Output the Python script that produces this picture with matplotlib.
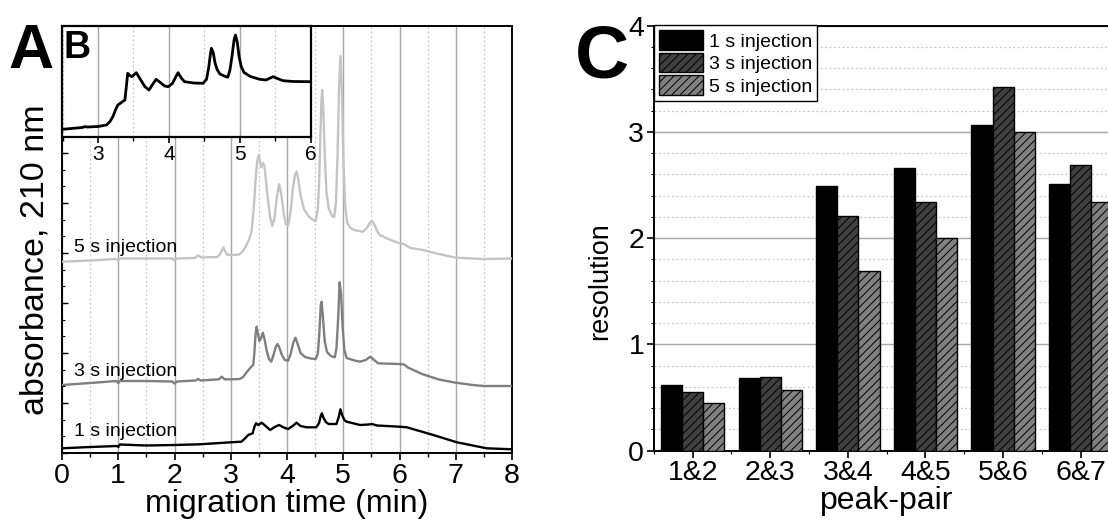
import matplotlib
matplotlib.use('Agg')
import matplotlib.pyplot as plt
from matplotlib.ticker import MultipleLocator, NullFormatter, FixedLocator
import numpy as np

# ---------------- data ----------------
# Panel A: electropherograms (migration time in min, absorbance in arbitrary units)
t5 = [0.00, 0.50, 0.97, 1.00, 1.03, 1.50, 1.96, 2.00, 2.04, 2.36, 2.42, 2.48, 2.76, 2.81, 2.87, 2.93,
      3.00, 3.15, 3.22, 3.28, 3.33, 3.37, 3.41, 3.44, 3.47, 3.50, 3.525, 3.545, 3.57, 3.595, 3.62, 3.66,
      3.70, 3.74, 3.78, 3.82, 3.86, 3.90, 3.94, 3.98, 4.02, 4.06, 4.10, 4.14, 4.17, 4.20, 4.24, 4.30,
      4.38, 4.46, 4.51, 4.55, 4.57, 4.59, 4.61, 4.625, 4.645, 4.67, 4.70, 4.74, 4.80, 4.84, 4.87, 4.90,
      4.925, 4.95, 4.975, 5.00, 5.03, 5.07, 5.13, 5.20, 5.35, 5.42, 5.47, 5.51, 5.55, 5.60, 5.65, 5.80,
      6.00, 6.08, 6.13, 6.20, 6.42, 6.70, 7.00, 7.50, 8.00]
a5 = [191.3, 192.5, 194.0, 192.0, 194.5, 194.5, 194.5, 192.5, 194.5, 195.0, 197.5, 195.5, 196.0, 199.0, 205.5, 198.5,
      198.0, 198.5, 202.0, 208.0, 214.0, 222.0, 245.0, 272.0, 292.0, 298.0, 290.0, 286.0, 290.0, 288.0, 276.0, 254.0,
      236.0, 227.0, 236.0, 256.0, 268.7, 258.0, 240.0, 229.0, 227.3, 240.0, 262.0, 278.0, 281.3, 274.0, 258.0, 244.0,
      237.0, 233.0, 232.0, 245.0, 268.0, 310.0, 350.0, 363.0, 345.0, 300.0, 262.0, 245.0, 237.0, 236.0, 250.0, 300.0,
      365.0, 397.0, 365.0, 300.0, 250.0, 230.0, 225.0, 223.0, 221.3, 225.0, 230.0, 232.0, 229.0, 222.0, 218.0, 214.0,
      209.7, 209.0, 207.0, 205.0, 203.0, 199.0, 195.3, 194.0, 194.5]

t3 = [0.00, 0.50, 0.97, 1.00, 1.03, 1.50, 1.96, 2.00, 2.04, 2.38, 2.42, 2.46, 2.79, 2.84, 2.89, 3.00,
      3.16, 3.22, 3.30, 3.36, 3.40, 3.42, 3.44, 3.46, 3.48, 3.51, 3.54, 3.57, 3.60, 3.64, 3.68, 3.72,
      3.76, 3.80, 3.83, 3.86, 3.91, 3.96, 4.02, 4.07, 4.11, 4.15, 4.19, 4.24, 4.32, 4.42, 4.51, 4.55,
      4.575, 4.60, 4.615, 4.64, 4.67, 4.71, 4.78, 4.85, 4.88, 4.91, 4.935, 4.96, 4.99, 5.02, 5.06, 5.20,
      5.30, 5.40, 5.48, 5.55, 5.62, 5.80, 6.00, 6.08, 6.15, 6.40, 6.70, 7.00, 7.30, 7.50, 8.00]
a3 = [68.0, 70.0, 72.0, 70.0, 72.0, 72.0, 71.5, 69.5, 71.5, 72.5, 74.0, 72.5, 73.7, 76.3, 73.7, 73.7,
      74.0, 76.0, 82.0, 86.0, 88.0, 100.0, 118.0, 126.3, 120.0, 112.0, 115.0, 120.3, 114.0, 102.0, 94.0, 91.3,
      98.0, 106.0, 109.0, 106.0, 98.0, 93.0, 92.3, 100.0, 110.0, 115.3, 109.0, 100.0, 96.0, 94.5, 94.0, 100.0,
      120.0, 148.0, 151.3, 135.0, 112.0, 101.0, 97.0, 95.7, 105.0, 135.0, 170.7, 160.0, 125.0, 103.0, 95.0, 92.5,
      91.3, 93.0, 96.3, 93.0, 89.7, 89.3, 89.0, 88.5, 85.5, 79.0, 73.5, 70.3, 68.0, 67.0, 67.0]

t1 = [0.00, 0.50, 0.98, 1.00, 1.03, 1.50, 2.00, 2.45, 3.00, 3.19, 3.26, 3.31, 3.39, 3.42, 3.45, 3.49,
      3.55, 3.62, 3.70, 3.78, 3.86, 3.94, 4.02, 4.10, 4.17, 4.24, 4.35, 4.52, 4.57, 4.60, 4.62, 4.65,
      4.69, 4.74, 4.88, 4.92, 4.95, 4.98, 5.02, 5.06, 5.30, 5.45, 5.51, 5.60, 6.00, 6.13, 6.60, 7.02,
      7.55, 8.00]
a1 = [4.7, 6.0, 7.0, 6.0, 8.5, 7.5, 8.0, 8.7, 10.7, 11.3, 15.0, 18.0, 19.7, 26.0, 29.7, 28.0,
      30.3, 27.0, 23.0, 26.0, 28.0, 25.5, 24.0, 27.0, 30.3, 27.0, 25.7, 25.7, 30.0, 37.0, 39.7, 35.0,
      31.0, 29.0, 29.0, 36.0, 43.7, 38.0, 33.0, 31.3, 28.0, 28.5, 29.0, 27.5, 26.3, 25.7, 18.0, 10.7,
      4.7, 3.7]

trace_labels = ['5 s injection', '3 s injection', '1 s injection']
label_heights = [206, 82, 21]

# Panel B: inset, 1 s injection enlarged
tB = [2.50, 2.70, 2.78, 2.81, 2.85, 3.00, 3.12, 3.17, 3.21, 3.25, 3.28, 3.35, 3.38, 3.40, 3.42, 3.45,
      3.48, 3.54, 3.60, 3.66, 3.72, 3.77, 3.82, 3.88, 3.94, 3.99, 4.05, 4.10, 4.13, 4.17, 4.22, 4.35,
      4.48, 4.53, 4.56, 4.585, 4.60, 4.625, 4.65, 4.68, 4.72, 4.78, 4.83, 4.86, 4.89, 4.92, 4.94, 4.965,
      4.99, 5.02, 5.06, 5.15, 5.28, 5.37, 5.47, 5.53, 5.61, 5.75, 6.00]
aB = [7.2, 8.5, 9.0, 9.8, 9.5, 10.0, 11.5, 15.0, 19.8, 27.0, 31.5, 35.0, 36.5, 50.0, 63.2, 61.0,
      59.8, 63.8, 57.0, 50.0, 46.5, 52.0, 57.2, 54.0, 50.5, 49.8, 53.0, 60.0, 63.8, 59.0, 54.8, 53.5,
      53.2, 57.0, 68.0, 82.0, 88.2, 84.0, 74.0, 67.0, 62.5, 60.5, 59.2, 66.0, 80.0, 97.0, 101.5, 94.0,
      80.0, 70.0, 64.0, 60.0, 57.2, 56.5, 59.8, 58.0, 55.8, 55.0, 54.8]

# Panel C: resolution per peak pair
pairs = ['1&2', '2&3', '3&4', '4&5', '5&6', '6&7']
res_1s = [0.62, 0.685, 2.49, 2.66, 3.06, 2.51]
res_3s = [0.55, 0.69, 2.21, 2.34, 3.42, 2.69]
res_5s = [0.45, 0.57, 1.69, 2.00, 3.00, 2.34]
series_names = ['1 s injection', '3 s injection', '5 s injection']

# ---------------- figure ----------------
plt.rcParams['font.family'] = ['Liberation Sans', 'DejaVu Sans']
plt.rcParams['hatch.linewidth'] = 0.7

W, H = 1108, 523
fig = plt.figure(figsize=(W / 100, H / 100), dpi=100)


def px_axes(l, t, r, b):
    return [l / W, 1 - b / H, (r - l) / W, (b - t) / H]


GRID_MAJ = '#a6a6a6'
GRID_MIN = '#c8c8c8'
TICK_FS = 20.5
LABEL_FS = 23

# ----- Panel A -----
A_l, A_t, A_r, A_b = 62, 26, 512, 453
axA = fig.add_axes(px_axes(A_l, A_t, A_r, A_b))
axA.plot(t5, a5, color='#c4c4c4', lw=1.7, zorder=3)
axA.plot(t3, a3, color='#7f7f7f', lw=1.7, zorder=3)
axA.plot(t1, a1, color='black', lw=1.7, zorder=3)
axA.set_xlim(0, 8)
axA.set_ylim(0, 427)
axA.xaxis.set_major_locator(MultipleLocator(1))
axA.xaxis.set_minor_locator(MultipleLocator(0.5))
axA.yaxis.set_major_locator(MultipleLocator(50))
axA.yaxis.set_minor_locator(MultipleLocator(16.67))
axA.yaxis.set_major_formatter(NullFormatter())
axA.tick_params(axis='x', which='major', direction='out', length=5, width=1.2, labelsize=TICK_FS, pad=2)
axA.tick_params(axis='x', which='minor', direction='out', length=3, width=1)
axA.tick_params(axis='y', which='major', direction='in', length=4, width=1)
axA.tick_params(axis='y', which='minor', direction='in', length=2.5, width=0.8)
axA.grid(axis='x', which='major', color=GRID_MAJ, lw=1, ls='-')
axA.grid(axis='x', which='minor', color=GRID_MIN, lw=0.9, ls=(0, (1.5, 2)))
for s in axA.spines.values():
    s.set_linewidth(1.4)
axA.set_xlabel('migration time (min)', fontsize=LABEL_FS, labelpad=0)
axA.set_ylabel('absorbance, 210 nm', fontsize=24.5)
axA.yaxis.label.set_va('center')
axA.yaxis.set_label_coords((35 - A_l) / (A_r - A_l), (A_b - 260) / (A_b - A_t))
for lab, h in zip(trace_labels, label_heights):
    axA.text(0.21, h, lab, fontsize=14, va='center', ha='left', zorder=4)

# ----- Panel B (inset) -----
axB = fig.add_axes(px_axes(62.5, 26, 310.7, 136.5), zorder=5)
axB.set_facecolor('white')
axB.plot(tB, aB, color='black', lw=2.0, zorder=3)
axB.set_xlim(2.5, 6.0)
axB.set_ylim(0, 110.5)
axB.xaxis.set_major_locator(MultipleLocator(1))
axB.xaxis.set_minor_locator(MultipleLocator(0.5))
axB.set_yticks([])
axB.tick_params(axis='x', which='major', direction='out', length=4, width=1.2, labelsize=15, pad=2)
axB.tick_params(axis='x', which='minor', direction='out', length=3, width=1)
axB.grid(axis='x', which='major', color=GRID_MAJ, lw=1, ls='-')
axB.grid(axis='x', which='minor', color=GRID_MIN, lw=0.9, ls=(0, (1.5, 2)))
for s in axB.spines.values():
    s.set_linewidth(1.6)

# ----- Panel C -----
cat_w = 77.6
C_l, C_t, C_b = 653.9, 25.5, 450.7
C_r = C_l + 6 * cat_w
axC = fig.add_axes(px_axes(C_l, C_t, C_r, C_b))
x = np.arange(len(pairs))
bw = 0.273
axC.bar(x - bw, res_1s, bw, color='black', edgecolor='black', lw=1, label=series_names[0], zorder=3)
axC.bar(x, res_3s, bw, color='#404040', edgecolor='black', lw=1, hatch='////', label=series_names[1], zorder=3)
axC.bar(x + bw, res_5s, bw, color='#808080', edgecolor='black', lw=1, hatch='////', label=series_names[2], zorder=3)
axC.set_xlim(-0.5, 5.5)
axC.set_ylim(0, 4)
axC.set_xticks(x)
axC.set_xticklabels(pairs)
axC.xaxis.set_minor_locator(FixedLocator(np.arange(-0.5, 6, 1.0)))
axC.yaxis.set_major_locator(MultipleLocator(1))
axC.yaxis.set_minor_locator(MultipleLocator(0.2))
axC.tick_params(axis='both', which='major', direction='out', length=5, width=1.2, labelsize=TICK_FS, pad=2)
axC.tick_params(axis='both', which='minor', direction='out', length=2.5, width=0.8)
axC.set_axisbelow(True)
axC.grid(axis='y', which='major', color=GRID_MAJ, lw=1, ls='-')
axC.grid(axis='y', which='minor', color=GRID_MIN, lw=0.9, ls=(0, (1.5, 2)))
for s in axC.spines.values():
    s.set_linewidth(1.4)
axC.set_xlabel('peak-pair', fontsize=LABEL_FS, labelpad=0)
axC.set_ylabel('resolution', fontsize=19.5)
axC.yaxis.label.set_va('center')
axC.yaxis.set_label_coords((600 - C_l) / (C_r - C_l), (C_b - 281) / (C_b - C_t))
leg = axC.legend(loc='upper left', borderaxespad=0, fancybox=False, edgecolor='black',
                 framealpha=1, fontsize=14, handlelength=2.25, handleheight=1.15,
                 labelspacing=0.12, handletextpad=0.35, borderpad=0.25)
leg.get_frame().set_linewidth(1.0)

# ----- panel letters -----
fig.text(8 / W, 1 - 68 / H, 'A', fontsize=45, fontweight='bold', va='baseline', ha='left')
fig.text(63 / W, 1 - 58 / H, 'B', fontsize=27, fontweight='bold', va='baseline', ha='left', zorder=10)
fig.text(575 / W, 1 - 78 / H, 'C', fontsize=54, fontweight='bold', va='baseline', ha='left')

fig.savefig('out.png', dpi=100)
